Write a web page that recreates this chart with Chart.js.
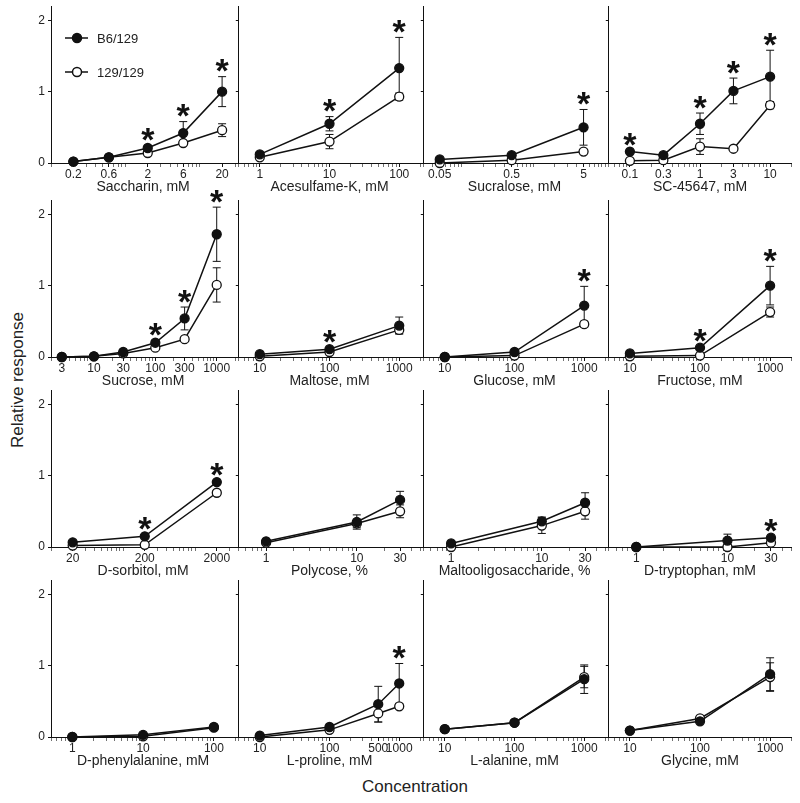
<!DOCTYPE html>
<html>
<head>
<meta charset="utf-8">
<script src="https://cdn.jsdelivr.net/npm/chart.js@4.4.0/dist/chart.umd.min.js"></script>
<style>
  body { margin: 0; background: #fff; }
  #figure { position: relative; width: 800px; height: 803px; overflow: hidden; font-family: "Liberation Sans", Arial, sans-serif; }
  #figure canvas { position: absolute; }
  .axis-title { position: absolute; font-size: 17px; color: #222; white-space: nowrap; transform: translate(-50%, -50%); }
  #ytitle { left: 18px; top: 380px; transform: translate(-50%, -50%) rotate(-90deg); }
  #xtitle { left: 415px; top: 787px; }
</style>
</head>
<body>
<div id="figure">
  <div class="axis-title" id="ytitle">Relative response</div>
  <div class="axis-title" id="xtitle">Concentration</div>
</div>
<script>
// Panel data, read row by row (left to right)
const panelLabels = [
  "Saccharin, mM", "Acesulfame-K, mM", "Sucralose, mM", "SC-45647, mM",
  "Sucrose, mM", "Maltose, mM", "Glucose, mM", "Fructose, mM",
  "D-sorbitol, mM", "Polycose, %", "Maltooligosaccharide, %", "D-tryptophan, mM",
  "D-phenylalanine, mM", "L-proline, mM", "L-alanine, mM", "Glycine, mM"
];

const concentrations = [
  [0.2, 0.6, 2, 6, 20], [1, 10, 100], [0.05, 0.5, 5], [0.1, 0.3, 1, 3, 10],
  [3, 10, 30, 100, 300, 1000], [10, 100, 1000], [10, 100, 1000], [10, 100, 1000],
  [20, 200, 2000], [1, 10, 30], [1, 10, 30], [1, 10, 30],
  [1, 10, 100], [10, 100, 500, 1000], [10, 100, 1000], [10, 100, 1000]
];

const b6Means = [
  [0.02, 0.08, 0.21, 0.42, 1.00], [0.12, 0.55, 1.33], [0.05, 0.11, 0.50], [0.16, 0.11, 0.55, 1.01, 1.21],
  [0, 0.01, 0.07, 0.20, 0.54, 1.72], [0.04, 0.11, 0.44], [0, 0.07, 0.72], [0.05, 0.13, 1.00],
  [0.065, 0.15, 0.91], [0.08, 0.35, 0.66], [0.05, 0.36, 0.62], [0, 0.09, 0.13],
  [0, 0.03, 0.14], [0.02, 0.14, 0.46, 0.75], [0.11, 0.20, 0.81], [0.09, 0.22, 0.88]
];

const b6Errors = [
  [0, 0.02, 0.03, 0.16, 0.21], [0.02, 0.10, 0.43], [0, 0.02, 0.25], [0.02, 0.02, 0.15, 0.18, 0.37],
  [0, 0, 0.02, 0.03, 0.16, 0.38], [0, 0.02, 0.12], [0, 0.02, 0.27], [0, 0.02, 0.27],
  [0, 0.02, 0.03], [0.02, 0.10, 0.12], [0.02, 0.06, 0.14], [0, 0.09, 0.02],
  [0, 0, 0.02], [0, 0.02, 0.25, 0.28], [0, 0.02, 0.20], [0, 0.02, 0.23]
];

const s129Means = [
  [0.02, 0.08, 0.14, 0.28, 0.46], [0.08, 0.30, 0.93], [0, 0.04, 0.16], [0.03, 0.04, 0.23, 0.20, 0.81],
  [0, 0.01, 0.05, 0.13, 0.25, 1.01], [0.01, 0.07, 0.38], [0, 0.02, 0.46], [0.01, 0.02, 0.63],
  [0.02, 0.03, 0.76], [0.06, 0.33, 0.50], [0, 0.30, 0.50], [0, 0, 0.06],
  [0, 0.01, 0.13], [0, 0.10, 0.33, 0.43], [0.11, 0.20, 0.84], [0.09, 0.26, 0.84]
];

const s129Errors = [
  [0, 0.02, 0.02, 0.03, 0.09], [0.02, 0.10, 0.05], [0, 0, 0.03], [0, 0, 0.11, 0.02, 0.05],
  [0, 0, 0, 0.02, 0.03, 0.24], [0, 0.01, 0.05], [0, 0, 0.04], [0, 0, 0.07],
  [0, 0, 0.03], [0.02, 0.06, 0.09], [0, 0.11, 0.11], [0, 0, 0.01],
  [0, 0, 0.02], [0, 0.02, 0.12, 0.03], [0, 0.02, 0.15], [0, 0.02, 0.20]
];

// indices of the concentrations marked with an asterisk
const starPoints = [
  [2, 3, 4], [1, 2], [2], [0, 2, 3, 4],
  [3, 4, 5], [1], [2], [1, 2],
  [1, 2], [], [], [2],
  [], [3], [], []
];

const tickLabels = concentrations;
const xLimits = [
  [0.1, 30], [0.5, 200], [0.03, 10], [0.05, 20],
  [2, 2000], [5, 2000], [5, 2000], [5, 2000],
  [10, 3600], [0.5, 50], [0.5, 50], [0.5, 50],
  [0.5, 200], [5, 2000], [5, 2000], [5, 2000]
];
const yTicks = [0, 1, 2];
const legendNames = ["B6/129", "129/129"];

// layout of the grid (page pixels)
const colEdges = [51, 237, 422, 607, 793];
const rowZeroY = [163, 357, 547, 737];
const PLOT_H = 157, Y_MAX = 2.2;
const PAD_TOP = 16, PAD_RIGHT = 4, X_AXIS_H = 40;
const INK = "#111";
const STAR_SIZE = 34;

Chart.defaults.font.family = '"Liberation Sans", Arial, sans-serif';
Chart.defaults.color = "#222";

function logTicks(min, max) {
  const ticks = [];
  for (let e = Math.floor(Math.log10(min)); e <= Math.ceil(Math.log10(max)); e++) {
    for (let m = 1; m <= 9; m++) {
      const v = m * Math.pow(10, e);
      if (v >= min * 0.999 && v <= max * 1.001) ticks.push({ value: v });
    }
  }
  return ticks;
}

const errorBars = {
  id: "errorBars",
  beforeDatasetsDraw(chart) {
    const { ctx, scales: { x, y } } = chart;
    ctx.save();
    ctx.strokeStyle = INK;
    ctx.lineWidth = 1;
    chart.data.datasets.forEach(ds => {
      ds.data.forEach((p, i) => {
        const e = ds.errors[i];
        if (!e) return;
        const px = x.getPixelForValue(p.x);
        const top = y.getPixelForValue(p.y + e);
        const bot = y.getPixelForValue(Math.max(0, p.y - e));
        ctx.beginPath();
        ctx.moveTo(px, top); ctx.lineTo(px, bot);
        ctx.moveTo(px - 4, top); ctx.lineTo(px + 4, top);
        ctx.moveTo(px - 4, bot); ctx.lineTo(px + 4, bot);
        ctx.stroke();
      });
    });
    ctx.restore();
  }
};

const stars = {
  id: "stars",
  afterDatasetsDraw(chart) {
    const p = chart.options.panel;
    const { ctx, scales: { x, y } } = chart;
    ctx.save();
    ctx.fillStyle = INK;
    ctx.font = 'bold ' + STAR_SIZE + 'px "Liberation Sans", Arial, sans-serif';
    ctx.textAlign = "center";
    ctx.textBaseline = "alphabetic";
    starPoints[p].forEach(i => {
      const top = Math.max(b6Means[p][i] + b6Errors[p][i], s129Means[p][i] + s129Errors[p][i]);
      const px = x.getPixelForValue(concentrations[p][i]);
      const cy = y.getPixelForValue(top) - 9;
      // the asterisk glyph sits ~0.43em above the baseline
      ctx.fillText("*", px, cy + 0.43 * STAR_SIZE);
    });
    ctx.restore();
  }
};

const strainLegend = {
  id: "strainLegend",
  afterDraw(chart) {
    const { ctx, chartArea: a } = chart;
    ctx.save();
    ctx.font = '13px "Liberation Sans", Arial, sans-serif';
    ctx.textBaseline = "middle";
    [32, 66].forEach((dy, k) => {
      const yy = a.top + dy;
      ctx.strokeStyle = INK;
      ctx.lineWidth = 1.5;
      ctx.beginPath();
      ctx.moveTo(a.left + 14, yy); ctx.lineTo(a.left + 37, yy);
      ctx.stroke();
      ctx.beginPath();
      ctx.arc(a.left + 26, yy, 4.5, 0, Math.PI * 2);
      ctx.fillStyle = k === 0 ? INK : "#fff";
      ctx.fill();
      ctx.stroke();
      ctx.fillStyle = "#222";
      ctx.fillText(legendNames[k], a.left + 46, yy + 1);
    });
    ctx.restore();
  }
};

const figure = document.getElementById("figure");

panelLabels.forEach((label, p) => {
  const col = p % 4, row = Math.floor(p / 4);
  const yW = col === 0 ? 30 : 4;
  const plotW = colEdges[col + 1] - colEdges[col];
  const canvas = document.createElement("canvas");
  canvas.width = yW + plotW + PAD_RIGHT;
  canvas.height = PAD_TOP + PLOT_H + X_AXIS_H;
  canvas.style.left = (colEdges[col] - yW) + "px";
  canvas.style.top = (rowZeroY[row] - PLOT_H - PAD_TOP) + "px";
  figure.appendChild(canvas);

  const [xmin, xmax] = xLimits[p];
  const labels = tickLabels[p];

  const series = (means, errors, fill, order) => ({
    data: concentrations[p].map((x, i) => ({ x, y: means[i] })),
    errors,
    borderColor: INK,
    borderWidth: 1.5,
    pointRadius: 4.5,
    pointBorderWidth: 1.3,
    pointBorderColor: INK,
    pointBackgroundColor: fill,
    tension: 0,
    clip: false,
    order
  });

  new Chart(canvas, {
    type: "line",
    data: {
      datasets: [
        series(b6Means[p], b6Errors[p], INK, 0),
        series(s129Means[p], s129Errors[p], "#fff", 1)
      ]
    },
    options: {
      panel: p,
      responsive: false,
      animation: false,
      devicePixelRatio: 1,
      layout: { padding: { top: PAD_TOP, right: PAD_RIGHT, left: 0, bottom: 0 } },
      plugins: { legend: { display: false }, tooltip: { enabled: false } },
      scales: {
        x: {
          type: "logarithmic",
          min: xmin,
          max: xmax,
          afterBuildTicks: s => { s.ticks = logTicks(xmin, xmax); },
          afterFit: s => { s.height = X_AXIS_H; },
          border: { display: true, color: INK, width: 1 },
          grid: {
            drawOnChartArea: false,
            drawTicks: true,
            tickLength: 4,
            tickColor: INK,
            tickWidth: c => (c.tick && c.tick.label ? 1 : 0.6)
          },
          ticks: {
            autoSkip: false,
            maxRotation: 0,
            minRotation: 0,
            padding: 0,
            color: "#222",
            font: { size: 12 },
            callback: v => {
              const hit = labels.find(l => Math.abs(l - v) / l < 1e-6);
              return hit !== undefined ? String(hit) : "";
            }
          },
          title: {
            display: true,
            text: label,
            color: "#222",
            font: { size: 14 },
            padding: { top: 0, bottom: 7 }
          }
        },
        y: {
          min: 0,
          max: Y_MAX,
          afterBuildTicks: s => { s.ticks = yTicks.map(v => ({ value: v })); },
          afterFit: s => { s.width = yW; },
          border: { display: true, color: INK, width: 1 },
          grid: { drawOnChartArea: false, drawTicks: true, tickLength: 3, tickColor: INK },
          ticks: { display: col === 0, padding: 3, color: "#222", font: { size: 12 } }
        }
      }
    },
    plugins: p === 0 ? [errorBars, stars, strainLegend] : [errorBars, stars]
  });
});
</script>
</body>
</html>
